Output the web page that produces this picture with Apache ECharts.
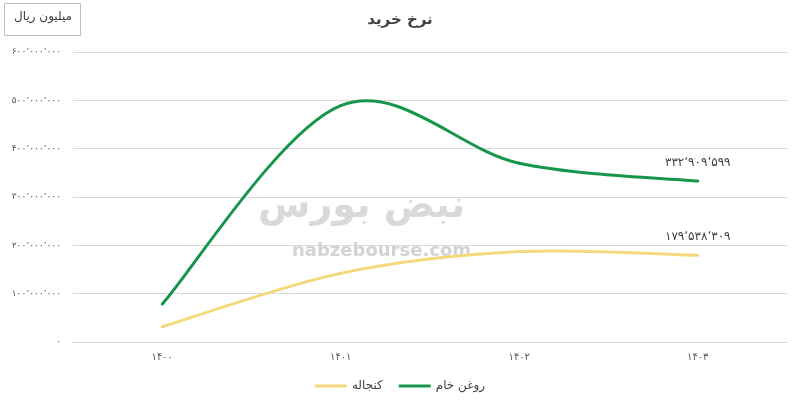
<!DOCTYPE html>
<html>
<head>
<meta charset="utf-8">
<script src="https://cdn.jsdelivr.net/npm/echarts@6/dist/echarts.min.js"></script>
<style>html,body{margin:0;padding:0;background:#fff}#c{width:800px;height:409px}</style>
</head>
<body>
<div id="c"></div>
<script>
const categories = ['۱۴۰۰', '۱۴۰۱', '۱۴۰۲', '۱۴۰۳'];
const oilValues = [78500000, 489000000, 370000000, 332909599];      // روغن خام
const mealValues = [31500000, 142000000, 187000000, 179538309];     // کنجاله
const seriesNames = ['روغن خام', 'کنجاله'];
const yTicks = [0, 100000000, 200000000, 300000000, 400000000, 500000000, 600000000];

const FONT = 'DejaVu Sans';
const OIL_COLOR = '#17964b';
const MEAL_COLOR = '#f3d97a';

function fa(n) {
  return String(n).replace(/\B(?=(\d{3})+(?!\d))/g, '٬').replace(/\d/g, d => '۰۱۲۳۴۵۶۷۸۹'[d]);
}

// Smoothed line (Catmull-Rom style bezier, like the spreadsheet's smoothing) drawn through the axis scales
function smoothSeries(name, values, color) {
  return {
    name: name, type: 'custom',
    data: values.map((v, i) => [i, v]),
    itemStyle: { color: color },
    renderItem: function (params, api) {
      const i = params.dataIndex;
      const n = values.length;
      const pt = k => api.coord([Math.max(0, Math.min(n - 1, k)), values[Math.max(0, Math.min(n - 1, k))]]);
      if (i === n - 1) {
        const p = pt(i);
        return {
          type: 'text', x: p[0], y: p[1] - 12,
          style: { text: fa(values[i]), font: '12px "DejaVu Sans"', fill: '#404040', align: 'center', verticalAlign: 'bottom' }
        };
      }
      const p0 = pt(i - 1), p1 = pt(i), p2 = pt(i + 1), p3 = pt(i + 2);
      return {
        type: 'bezierCurve',
        shape: {
          x1: p1[0], y1: p1[1], x2: p2[0], y2: p2[1],
          cpx1: p1[0] + (p2[0] - p0[0]) / 6, cpy1: p1[1] + (p2[1] - p0[1]) / 6,
          cpx2: p2[0] - (p3[0] - p1[0]) / 6, cpy2: p2[1] - (p3[1] - p1[1]) / 6
        },
        style: { stroke: color, lineWidth: 3, fill: null, lineCap: 'round' }
      };
    }
  };
}

const chart = echarts.init(document.getElementById('c'));
chart.setOption({
  animation: false,
  textStyle: { fontFamily: FONT },
  title: {
    text: 'نرخ خرید', left: 'center', top: 8,
    textStyle: { fontFamily: FONT, fontSize: 15, fontWeight: 'bold', color: '#404040' }
  },
  graphic: [
    { type: 'rect', left: 4, top: 3, shape: { width: 76, height: 32 }, style: { fill: '#fff', stroke: '#bfbfbf', lineWidth: 1 } },
    { type: 'text', left: 14, top: 11, style: { text: 'میلیون ریال', font: '12px "DejaVu Sans"', fill: '#404040' } },
    { type: 'text', left: 258, top: 188, z: -1, style: { text: 'نبض بورس', font: 'bold 38px "DejaVu Sans"', fill: '#d9d9d9' } },
    { type: 'text', left: 292, top: 242, z: -1, style: { text: 'nabzebourse.com', font: 'bold 18px "DejaVu Sans"', fill: '#d3d3d3' } }
  ],
  legend: {
    data: [seriesNames[1], seriesNames[0]],
    bottom: 12, left: 'center',
    icon: 'rect', itemWidth: 32, itemHeight: 3, itemGap: 16,
    textStyle: { fontFamily: FONT, fontSize: 12, color: '#404040' }
  },
  grid: { left: 73, right: 13, top: 52, bottom: 67 },
  xAxis: {
    type: 'category', data: categories, boundaryGap: true,
    axisLine: { show: true, lineStyle: { color: '#d9d9d9' } },
    axisTick: { show: false },
    axisLabel: { fontFamily: FONT, fontSize: 10, color: '#595959', margin: 10 }
  },
  yAxis: {
    type: 'value', min: yTicks[0], max: yTicks[yTicks.length - 1], interval: yTicks[1] - yTicks[0],
    axisLine: { show: false }, axisTick: { show: false },
    splitLine: { lineStyle: { color: '#d9d9d9' } },
    axisLabel: { fontFamily: FONT, fontSize: 9, color: '#595959', margin: 12, formatter: v => fa(v) }
  },
  series: [
    smoothSeries(seriesNames[0], oilValues, OIL_COLOR),
    smoothSeries(seriesNames[1], mealValues, MEAL_COLOR)
  ]
});
</script>
</body>
</html>
